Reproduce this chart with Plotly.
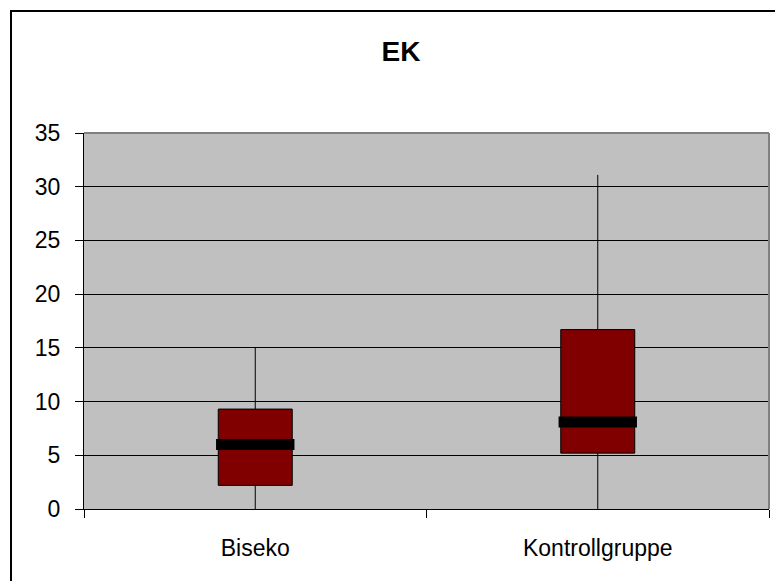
import plotly.graph_objects as go

# Box-plot summary statistics per group
groups = ["Biseko", "Kontrollgruppe"]
minimum = [0.0, 0.0]
q1 = [2.2, 5.2]
median = [6.0, 8.1]
q3 = [9.3, 16.7]
maximum = [15.0, 31.1]

y_ticks = [0, 5, 10, 15, 20, 25, 30, 35]

FONT = "Liberation Sans, Arial, sans-serif"
W, H = 775, 581
L, R, T, B = 84, 769, 133, 509  # plot area in pixels

fig = go.Figure()

fig.add_trace(go.Box(
    x=groups,
    q1=q1, median=median, q3=q3,
    lowerfence=minimum, upperfence=maximum,
    fillcolor="#800000",
    line=dict(color="black", width=1),
    whiskerwidth=0,
    width=0.216,
    boxpoints=False,
    hoverinfo="skip",
    showlegend=False,
))

# Thick median bars
fig.add_trace(go.Scatter(
    x=groups, y=median,
    mode="markers",
    marker=dict(symbol="line-ew", size=56, color="black",
                line=dict(color="black", width=11)),
    hoverinfo="skip",
    showlegend=False,
))

def px_x(px):
    return (px - L) / (R - L)

def px_y(py):
    return (B - py) / (B - T)

shapes = [
    # grey frame on top and right of plot area
    dict(type="line", xref="paper", yref="paper", x0=0, x1=1, y0=1, y1=1,
         line=dict(color="#808080", width=2), layer="above"),
    dict(type="line", xref="paper", yref="paper", x0=1, x1=1, y0=0, y1=1,
         line=dict(color="#808080", width=2), layer="above"),
    # outer chart border
    dict(type="rect", xref="paper", yref="paper",
         x0=px_x(11), x1=px_x(W + 20), y0=px_y(H + 20), y1=px_y(11),
         line=dict(color="black", width=2), fillcolor="rgba(0,0,0,0)"),
]

fig.update_layout(
    width=W, height=H,
    margin=dict(l=L, r=W - R, t=T, b=H - B, pad=0),
    paper_bgcolor="white",
    plot_bgcolor="#C0C0C0",
    font=dict(family=FONT, size=23, color="black"),
    title=dict(text="<b>EK</b>", x=401 / W, xref="container", xanchor="center",
               y=1 - 51 / H, yref="container", yanchor="middle",
               font=dict(family=FONT, size=28, color="black")),
    shapes=shapes,
    xaxis=dict(
        type="category",
        range=[-0.5, 1.5],
        tickson="boundaries",
        ticks="outside", ticklen=8, tickwidth=1, tickcolor="black",
        showline=True, linecolor="black", linewidth=1,
        showgrid=False,
        ticklabelstandoff=18,
        tickfont=dict(family=FONT, size=23),
    ),
    yaxis=dict(
        range=[0, 35],
        tickvals=y_ticks,
        ticks="outside", ticklen=8, tickwidth=1, tickcolor="black",
        showline=True, linecolor="black", linewidth=1,
        showgrid=True, gridcolor="black", gridwidth=1,
        zeroline=False,
        ticklabelstandoff=10,
        tickfont=dict(family=FONT, size=23),
    ),
)

fig.write_html("out.html")
